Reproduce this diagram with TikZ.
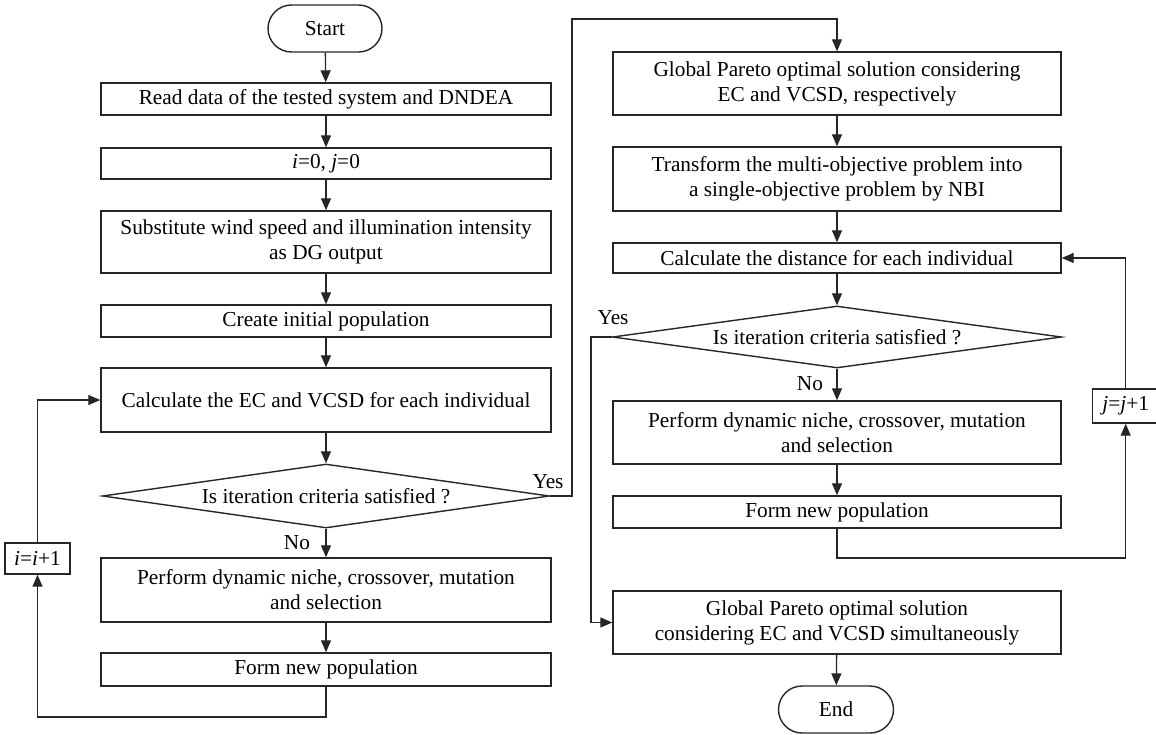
\documentclass[tikz,border=0pt]{standalone}
\usepackage{fontspec}
\setmainfont{Liberation Serif}
\newfontfamily\tnr{Liberation Serif}
\usetikzlibrary{shapes.geometric,shapes.misc,arrows.meta}
\begin{document}
\begin{tikzpicture}[x=1pt,y=-1pt,
  every node/.style={font=\tnr\fontsize{21.3}{25}\selectfont},
  proc/.style={draw=black!85,line width=1.4pt,rectangle,minimum width=450pt,inner sep=0pt,align=center},
  term/.style={draw=black!85,line width=1.4pt,rounded rectangle,minimum width=114pt,minimum height=47pt,inner sep=0pt},
  dec/.style={draw=black!85,line width=1.4pt,diamond,minimum width=447pt,minimum height=64pt,inner sep=0pt,aspect=7},
  cnt/.style={draw=black!85,line width=1.4pt,rectangle,minimum width=65pt,inner sep=0pt},
  lbl/.style={inner sep=0pt},
  flow/.style={draw=black!85,line width=1.3pt,-{Triangle[length=12pt,width=10pt]}},
  line/.style={draw=black!85,line width=1.3pt}
]
\useasboundingbox (0,0) rectangle (1156,734);
% left column
\node[term] (start) at (325,28.5) {Start};
\node[proc,minimum height=32pt] (read) at (326,99) {Read data of the tested system and DNDEA};
\node[proc,minimum height=31pt] (ij) at (326,163.5) {\textit{i}=0, \textit{j}=0};
\node[proc,minimum height=62pt] (subst) at (326,242) {Substitute wind speed and illumination intensity\\as DG output};
\node[proc,minimum height=32pt] (create) at (326,321) {Create initial population};
\node[proc,minimum height=64pt] (calc) at (326,400) {Calculate the EC and VCSD for each individual};
\node[dec] (dec1) at (326,496) {Is iteration criteria satisfied ?};
\node[proc,minimum height=64pt] (perf1) at (326,590) {Perform dynamic niche, crossover, mutation\\and selection};
\node[proc,minimum height=33pt] (form1) at (326,669.5) {Form new population};
\node[cnt,minimum height=31pt] (iinc) at (37.5,558.5) {\textit{i}=\textit{i}+1};
\node[lbl] (yes1) at (548,482) {Yes};
\node[lbl] (no1) at (297,543) {No};
% right column
\node[proc,minimum width=448pt,minimum height=63pt] (gp1) at (837,83.5) {Global Pareto optimal solution considering\\EC and VCSD, respectively};
\node[proc,minimum width=448pt,minimum height=64pt] (trans) at (837,179) {Transform the multi-objective problem into\\a single-objective problem by NBI};
\node[proc,minimum width=448pt,minimum height=30pt] (dist) at (837,258) {Calculate the distance for each individual};
\node[dec,minimum width=449pt,minimum height=62pt] (dec2) at (837,337) {Is iteration criteria satisfied ?};
\node[proc,minimum width=448pt,minimum height=63pt] (perf2) at (837,432.5) {Perform dynamic niche, crossover, mutation\\and selection};
\node[proc,minimum width=448pt,minimum height=32pt] (form2) at (837,512) {Form new population};
\node[cnt,minimum width=66pt,minimum height=34pt] (jinc) at (1125.7,406) {\textit{j}=\textit{j}+1};
\node[proc,minimum width=448pt,minimum height=63pt] (final) at (837,622.5) {Global Pareto optimal solution\\considering EC and VCSD simultaneously};
\node[term,minimum width=115pt] (end) at (836,709.5) {End};
\node[lbl] (yes2) at (613,318) {Yes};
\node[lbl] (no2) at (810,384) {No};
% coordinates
\coordinate (l1) at (326,717);
\coordinate (l2) at (37.5,717);
\coordinate (l3) at (37.5,400);
\coordinate (y1a) at (572,496);
\coordinate (y1b) at (572,19);
\coordinate (y1c) at (837,19);
\coordinate (y2a) at (591,337);
\coordinate (y2b) at (591,622.5);
\coordinate (r1) at (837,558);
\coordinate (r2) at (1125.7,558);
\coordinate (r3) at (1125.7,258);
% left connectors
\draw[flow] (start) -- (read);
\draw[flow] (read) -- (ij);
\draw[flow] (ij) -- (subst);
\draw[flow] (subst) -- (create);
\draw[flow] (create) -- (calc);
\draw[flow] (calc) -- (dec1);
\draw[flow] (dec1) -- (perf1);
\draw[flow] (perf1) -- (form1);
\draw[flow] (form1.south) -- (l1) -- (l2) -- (iinc.south);
\draw[flow] (iinc.north) -- (l3) -- (calc.west);
\draw[flow] (dec1.east) -- (y1a) -- (y1b) -- (y1c) -- (gp1.north);
% right connectors
\draw[flow] (gp1) -- (trans);
\draw[flow] (trans) -- (dist);
\draw[flow] (dist) -- (dec2);
\draw[flow] (dec2) -- (perf2);
\draw[flow] (perf2) -- (form2);
\draw[flow] (form2.south) -- (r1) -- (r2) -- (jinc.south);
\draw[flow] (jinc.north) -- (r3) -- (dist.east);
\draw[flow] (dec2.west) -- (y2a) -- (y2b) -- (final.west);
\draw[flow] (final) -- (end);
\end{tikzpicture}
\end{document}
